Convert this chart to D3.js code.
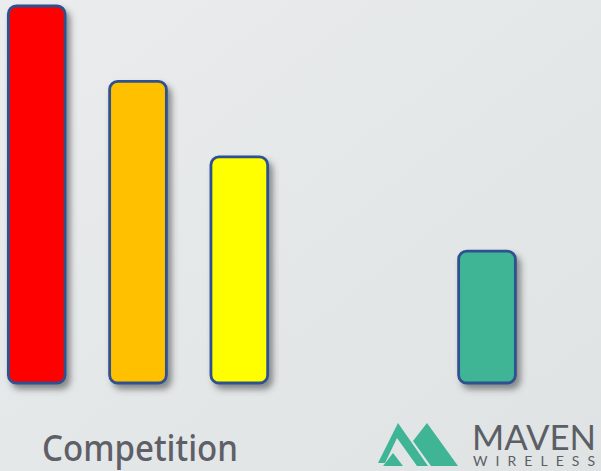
<!DOCTYPE html>
<html>
<head>
<meta charset="utf-8">
<script src="https://cdn.jsdelivr.net/npm/d3@7/dist/d3.min.js"></script>
<style>
  html, body { margin: 0; padding: 0; }
  body { width: 601px; height: 471px; overflow: hidden; }
  .label { font-family: 'Noto Sans', sans-serif; font-weight: 500; fill: #5e5f67; }
  .brand { font-family: Lato, sans-serif; fill: #5c5e66; }
</style>
</head>
<body>
<svg class="chart"></svg>
<script>
// groups and bars
const groups = ['Competition', 'Maven']
const competitionBars = ['A', 'B', 'C']
const competitionValues = [100, 80, 60]
const mavenBars = ['Maven']
const mavenValues = [35]
const competitionColors = ['#ff0000', '#ffc000', '#ffff00']
const mavenColors = ['#3fb596']

const drawChart = () => {

    const width = 601
    const height = 471

    const padding = {
        top: 6,
        bottom: 88
    }

    const svg = d3.select('.chart')
        .attr('width', width)
        .attr('height', height)

    const defs = svg.append('defs')

    const grad = defs.append('linearGradient')
        .attr('id', 'bg')
        .attr('x1', 0).attr('y1', 0)
        .attr('x2', 1).attr('y2', 1)
    grad.append('stop').attr('offset', 0).attr('stop-color', '#eaeced')
    grad.append('stop').attr('offset', 1).attr('stop-color', '#dfe3e4')

    const shadow = defs.append('filter')
        .attr('id', 'shadow')
        .attr('x', '-30%').attr('y', '-10%')
        .attr('width', '170%').attr('height', '130%')
    shadow.append('feDropShadow')
        .attr('dx', 4)
        .attr('dy', 5)
        .attr('stdDeviation', 3)
        .attr('flood-color', '#3a3a3a')
        .attr('flood-opacity', 0.55)

    svg.append('rect')
        .attr('width', width)
        .attr('height', height)
        .attr('fill', 'url(#bg)')

    const yScale = d3.scaleLinear()
        .domain([ 0, 100 ])
        .range([ height - padding.bottom, padding.top ])

    const groupScale = d3.scalePoint()
        .domain(groups)
        .range([ 138, 487 ])

    const step = 101.3

    const drawGroup = (name, cats, vals, colors) => {
        const n = cats.length
        const cx = groupScale(name)
        const inner = d3.scaleBand()
            .domain(cats)
            .range([ cx - n * step / 2, cx + n * step / 2 ])
            .paddingInner(0.44)
            .paddingOuter(0.22)

        svg.selectAll('blah')
            .data(cats)
            .enter()
            .append('rect')
            .attr('x', d => inner(d))
            .attr('y', (d, i) => yScale(vals[i]))
            .attr('width', inner.bandwidth())
            .attr('height', (d, i) => yScale(0) - yScale(vals[i]))
            .attr('rx', 8)
            .attr('fill', (d, i) => colors[i])
            .attr('stroke', '#2f5190')
            .attr('stroke-width', 2.8)
            .attr('filter', 'url(#shadow)')
    }

    drawGroup('Competition', competitionBars, competitionValues, competitionColors)
    drawGroup('Maven', mavenBars, mavenValues, mavenColors)

    // group label
    svg.append('text')
        .attr('class', 'label')
        .attr('x', groupScale('Competition') + 2)
        .attr('y', 461)
        .style('text-anchor', 'middle')
        .style('font-size', '36px')
        .attr('textLength', 196)
        .attr('lengthAdjust', 'spacingAndGlyphs')
        .text('Competition')

    // maven logo
    const logo = svg.append('g')
        .attr('transform', 'translate(378, 422)')
        .attr('fill', '#3fb596')

    logo.append('path')
        .attr('d', 'M0,41 L20,1 L50,44 L39,44 L19,16 L7,41 Z')
    logo.append('path')
        .attr('d', 'M5,44 L15,31 L25,44 Z')
    logo.append('path')
        .attr('d', 'M35,19 L49,1 L80,44 L53,44 Z')

    svg.append('text')
        .attr('class', 'brand')
        .attr('x', 472)
        .attr('y', 450)
        .style('font-size', '34px')
        .attr('textLength', 124)
        .attr('lengthAdjust', 'spacingAndGlyphs')
        .text('MAVEN')

    svg.append('text')
        .attr('class', 'brand')
        .attr('x', 473)
        .attr('y', 466)
        .style('font-size', '14px')
        .attr('textLength', 122)
        .attr('lengthAdjust', 'spacing')
        .text('WIRELESS')
}

drawChart()
</script>
</body>
</html>
